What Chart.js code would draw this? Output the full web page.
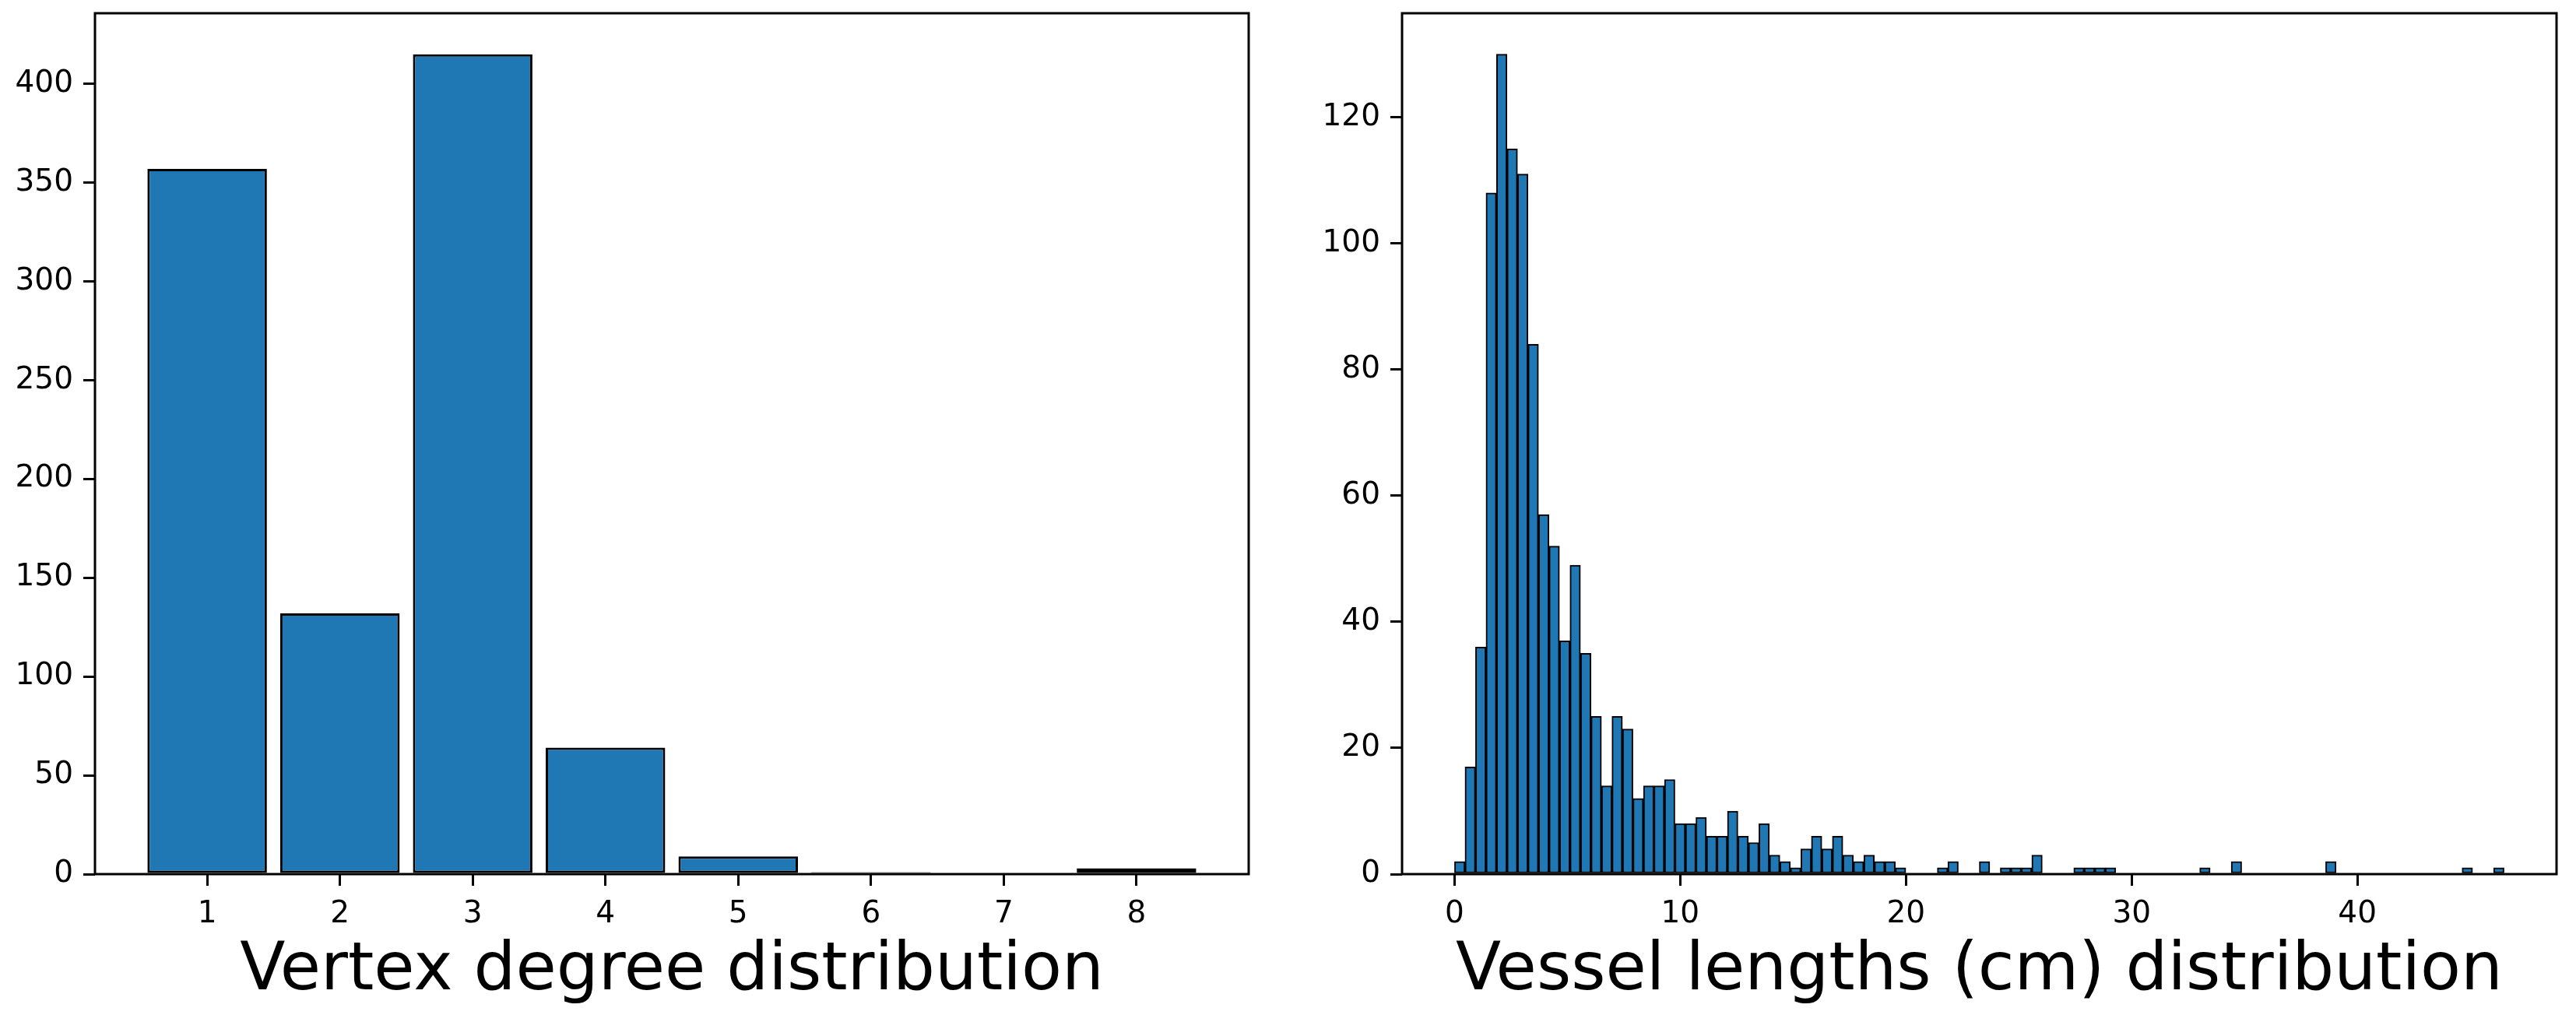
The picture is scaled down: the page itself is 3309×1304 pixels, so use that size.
<!DOCTYPE html>
<html>
<head>
<meta charset="utf-8">
<script src="https://cdn.jsdelivr.net/npm/chart.js@4.4.1/dist/chart.umd.min.js"></script>
<style>
  html, body { margin: 0; padding: 0; background: #ffffff; }
  body { width: 3309px; height: 1304px; position: relative; overflow: hidden; }
  canvas { position: absolute; top: 0; }
  #degreeChart { left: 0px; }
  #lengthChart { left: 1680px; }
</style>
</head>
<body>
<canvas id="degreeChart" width="1680" height="1304"></canvas>
<canvas id="lengthChart" width="1629" height="1304"></canvas>
<script>
// ---- Data ----
const degreeCategories = [1, 2, 3, 4, 5, 6, 7, 8];
const degreeCounts = [357, 132, 415, 64, 9, 1, 0, 3];
const degreeXTicks = [1, 2, 3, 4, 5, 6, 7, 8];
const degreeYTicks = [0, 50, 100, 150, 200, 250, 300, 350, 400];
const degreeTitle = 'Vertex degree distribution';

const lengthBinStart = 0;
const lengthBinWidth = 0.465;
const lengthCounts = [
  2, 17, 36, 108, 130, 115, 111, 84, 57, 52,
  37, 49, 35, 25, 14, 25, 23, 12, 14, 14,
  15, 8, 8, 9, 6, 6, 10, 6, 5, 8,
  3, 2, 1, 4, 6, 4, 6, 3, 2, 3,
  2, 2, 1, 0, 0, 0, 1, 2, 0, 0,
  2, 0, 1, 1, 1, 3, 0, 0, 0, 1,
  1, 1, 1, 0, 0, 0, 0, 0, 0, 0,
  0, 1, 0, 0, 2, 0, 0, 0, 0, 0,
  0, 0, 0, 2, 0, 0, 0, 0, 0, 0,
  0, 0, 0, 0, 0, 0, 1, 0, 0, 1
];
const lengthXTicks = [0, 10, 20, 30, 40];
const lengthYTicks = [0, 20, 40, 60, 80, 100, 120];
const lengthTitle = 'Vessel lengths (cm) distribution';

// ---- Styling ----
const FONT = 'DejaVu Sans';
const BAR_BLUE = '#1f77b4';

const framePlugin = {
  id: 'frame',
  afterDatasetsDraw(chart) {
    const { ctx, chartArea: a } = chart;
    ctx.save();
    ctx.strokeStyle = '#000';
    ctx.lineWidth = 3;
    ctx.strokeRect(a.left, a.top, a.right - a.left, a.bottom - a.top);
    ctx.restore();
  }
};

function setTicks(values) {
  return function (axis) { axis.ticks = values.map(v => ({ value: v })); };
}

function axisCommon() {
  return {
    grid: { display: true, drawOnChartArea: false, drawTicks: true, tickLength: 15,
            tickColor: '#000', tickWidth: 3, lineWidth: 3, offset: false },
    border: { display: false },
    ticks: { color: '#000', font: { family: FONT, size: 39 }, padding: 13, maxRotation: 0, autoSkip: false }
  };
}

function makeChart(id, data, barPct, borderW, xMin, xMax, xTicks, yMax, yTicks, title, yWidth, padRight) {
  const xc = axisCommon();
  const yc = axisCommon();
  return new Chart(document.getElementById(id), {
    type: 'bar',
    data: {
      datasets: [{
        data: data,
        backgroundColor: BAR_BLUE,
        borderColor: '#000',
        borderWidth: borderW,
        borderSkipped: false,
        barPercentage: barPct,
        categoryPercentage: 1.0
      }]
    },
    options: {
      responsive: false,
      animation: false,
      devicePixelRatio: 1,
      layout: { padding: { left: 0, top: 17, right: padRight, bottom: 0 } },
      plugins: { legend: { display: false }, tooltip: { enabled: false } },
      scales: {
        x: {
          type: 'linear',
          min: xMin, max: xMax,
          offset: false,
          grid: xc.grid, border: xc.border,
          ticks: Object.assign({}, xc.ticks, { callback: v => String(v) }),
          afterBuildTicks: setTicks(xTicks),
          afterFit: s => { s.height = 181; s.paddingLeft = 0; s.paddingRight = 0; },
          title: { display: true, text: title, color: '#000',
                   font: { family: FONT, size: 85, lineHeight: 1.2 },
                   padding: { top: 0, bottom: 4 } }
        },
        y: {
          type: 'linear',
          min: 0, max: yMax,
          grid: yc.grid, border: yc.border,
          ticks: Object.assign({}, yc.ticks, { callback: v => String(v) }),
          afterBuildTicks: setTicks(yTicks),
          afterFit: s => { s.width = yWidth; s.paddingTop = 0; s.paddingBottom = 0; }
        }
      }
    },
    plugins: [framePlugin]
  });
}

const degreeData = degreeCategories.map((c, i) => ({ x: c, y: degreeCounts[i] }));
const lengthData = lengthCounts.map((c, i) => ({ x: lengthBinStart + (i + 0.5) * lengthBinWidth, y: c }));

makeChart('degreeChart', degreeData, 0.9, 3, 0.155, 8.845, degreeXTicks, 435.75, degreeYTicks, degreeTitle, 122, 76);
makeChart('lengthChart', lengthData, 1.0, 2, -2.325, 48.825, lengthXTicks, 136.5, lengthYTicks, lengthTitle, 121, 25);
</script>
</body>
</html>
